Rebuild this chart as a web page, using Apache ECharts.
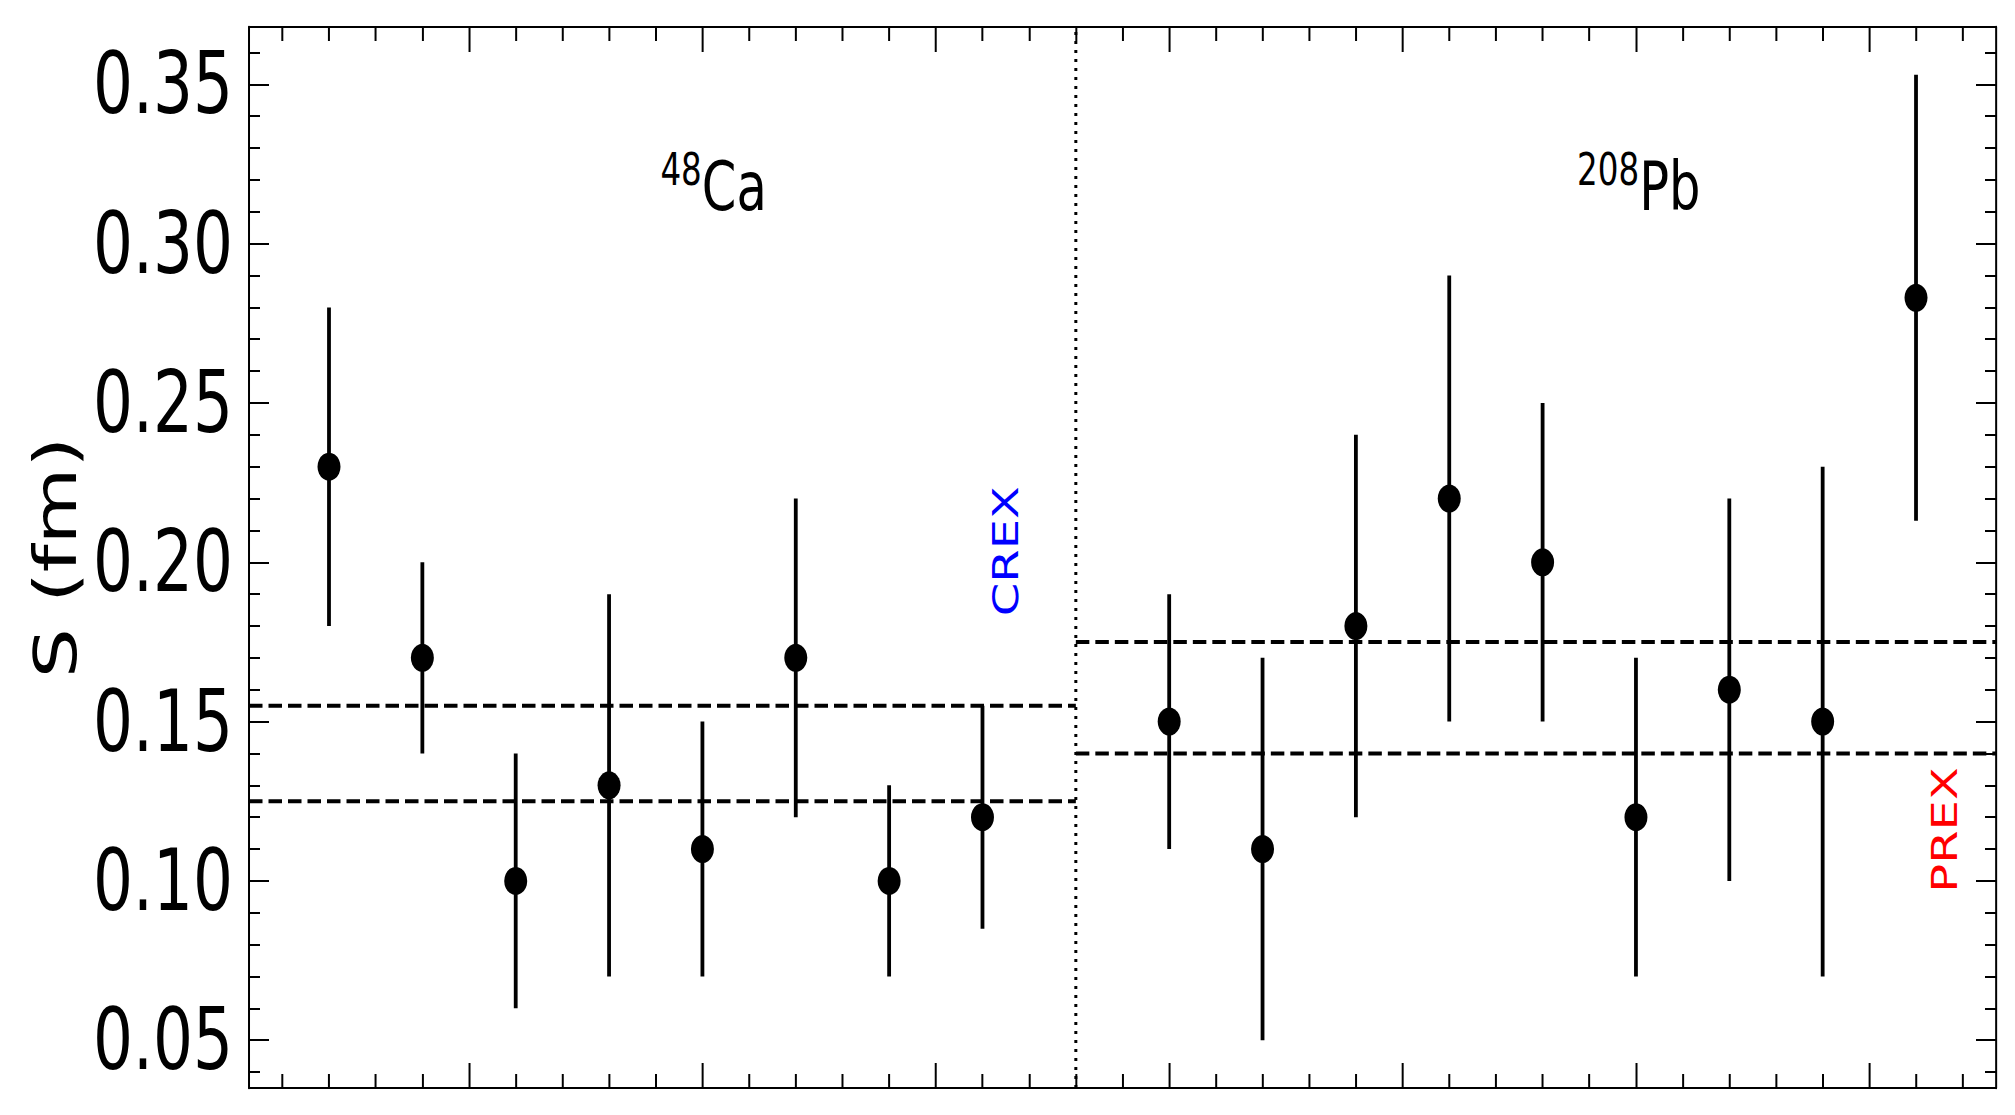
<!DOCTYPE html>
<html>
<head>
<meta charset="utf-8">
<script src="https://cdn.jsdelivr.net/npm/echarts@6/dist/echarts.min.js"></script>
<style>
  html, body { margin: 0; padding: 0; background: #fff; overflow: hidden; }
  /* the reference image is horizontally compressed; draw wider and squeeze */
  #chart { width: 2723px; height: 1115px; transform: scaleX(0.74); transform-origin: 0 0; }
</style>
</head>
<body>
<div id="chart"></div>
<script>
// ---- data ----
const caX  = [1, 2, 3, 4, 5, 6, 7, 8];
const caS  = [0.23, 0.17, 0.10, 0.13, 0.11, 0.17, 0.10, 0.12];
const caLo = [0.18, 0.14, 0.06, 0.07, 0.07, 0.12, 0.07, 0.085];
const caHi = [0.28, 0.20, 0.14, 0.19, 0.15, 0.22, 0.13, 0.155];

const pbX  = [10, 11, 12, 13, 14, 15, 16, 17, 18];
const pbS  = [0.15, 0.11, 0.18, 0.22, 0.20, 0.12, 0.16, 0.15, 0.283];
const pbLo = [0.11, 0.05, 0.12, 0.15, 0.15, 0.07, 0.10, 0.07, 0.213];
const pbHi = [0.19, 0.17, 0.24, 0.29, 0.25, 0.17, 0.22, 0.23, 0.353];

const crexBand = [0.125, 0.155];   // CREX dashed lines (Ca side)
const prexBand = [0.140, 0.175];   // PREX dashed lines (Pb side)
const divider  = 9;                // dotted separator between the panels

const xRange = [0.143, 18.857];
const yRange = [0.035, 0.368];

const xMajorTicks = [2.5, 5, 7.5, 10, 12.5, 15, 17.5];
const xMinorTicks = [0.5, 1, 1.5, 2, 3, 3.5, 4, 4.5, 5.5, 6, 6.5, 7, 8, 8.5, 9, 9.5,
                     10.5, 11, 11.5, 12, 13, 13.5, 14, 14.5, 15.5, 16, 16.5, 17, 18, 18.5];
const yMajorTicks = [0.05, 0.10, 0.15, 0.20, 0.25, 0.30, 0.35];
const yMinorTicks = [0.04, 0.06, 0.07, 0.08, 0.09, 0.11, 0.12, 0.13, 0.14, 0.16, 0.17, 0.18, 0.19,
                     0.21, 0.22, 0.23, 0.24, 0.26, 0.27, 0.28, 0.29, 0.31, 0.32, 0.33, 0.34, 0.36];
const yTickLabels = ['0.05', '0.10', '0.15', '0.20', '0.25', '0.30', '0.35'];

const panelLabels = [
  { sup: '48',  base: 'Ca', x: 5.12,  y: 0.3180 },
  { sup: '208', base: 'Pb', x: 15.03, y: 0.3180 }
];
const expLabels = [
  { text: 'CREX', x: 8.25,  y: 0.2035, color: '#0000ff' },
  { text: 'PREX', x: 18.31, y: 0.116,  color: '#ff0000' }
];

// ---- styling ----
const SQ = 0.74;                 // horizontal squeeze applied by CSS
const hx = (v) => v / SQ;        // horizontal size in pre-squeeze pixels
const SANS = "'DejaVu Sans', sans-serif";

function xAxisDef(pos, ticks, len, showLine) {
  return {
    type: 'value', position: pos, min: xRange[0], max: xRange[1],
    axisLine: { show: showLine, onZero: false, lineStyle: { color: '#000', width: 2 } },
    axisTick: { show: true, inside: true, length: len, customValues: ticks,
                lineStyle: { color: '#000', width: hx(2) } },
    axisLabel: { show: false },
    splitLine: { show: false }
  };
}
function yAxisDef(pos, ticks, len, showLine, withLabels) {
  const a = {
    type: 'value', position: pos, min: yRange[0], max: yRange[1],
    axisLine: { show: showLine, onZero: false, lineStyle: { color: '#000', width: hx(2) } },
    axisTick: { show: true, inside: true, length: hx(len), customValues: ticks,
                lineStyle: { color: '#000', width: 2 } },
    axisLabel: { show: false },
    splitLine: { show: false }
  };
  if (withLabels) {
    a.axisLabel = {
      show: true, customValues: yMajorTicks, margin: hx(16),
      formatter: (v) => yTickLabels[yMajorTicks.findIndex(t => Math.abs(t - v) < 1e-6)] || v.toFixed(2),
      fontFamily: SANS, fontSize: 85, color: '#000'
    };
    a.name = 'S (fm)';
    a.nameLocation = 'middle';
    a.nameRotate = 90;
    a.nameGap = hx(160);
    a.nameTextStyle = { fontFamily: SANS, fontSize: 79, color: '#000' };
  }
  return a;
}

const errData = caX.map((x, i) => [x, caLo[i], caHi[i]])
  .concat(pbX.map((x, i) => [x, pbLo[i], pbHi[i]]));
const ptData = caX.map((x, i) => [x, caS[i]]).concat(pbX.map((x, i) => [x, pbS[i]]));

const dashStyle = { color: '#000', width: 4, type: [hx(13.5), hx(6)] };
function hLine(v, x0, x1) {
  return {
    type: 'line', xAxisIndex: 0, yAxisIndex: 0, symbol: 'none', silent: true,
    data: [[x0, v], [x1, v]], lineStyle: dashStyle, z: 3
  };
}

const chart = echarts.init(document.getElementById('chart'), null, { renderer: 'svg' });
chart.setOption({
  animation: false,
  backgroundColor: '#fff',
  grid: { left: hx(249), top: 27, right: hx(19), bottom: 27, containLabel: false,
          outerBoundsMode: 'none' },
  xAxis: [
    xAxisDef('bottom', xMajorTicks, 25, true),
    xAxisDef('bottom', xMinorTicks, 14, false),
    xAxisDef('top', xMajorTicks, 25, true),
    xAxisDef('top', xMinorTicks, 14, false)
  ],
  yAxis: [
    yAxisDef('left', yMajorTicks, 20, true, true),
    yAxisDef('left', yMinorTicks, 11, false, false),
    yAxisDef('right', yMajorTicks, 20, true, false),
    yAxisDef('right', yMinorTicks, 11, false, false)
  ],
  series: [
    hLine(crexBand[0], xRange[0], divider),
    hLine(crexBand[1], xRange[0], divider),
    hLine(prexBand[0], divider, xRange[1]),
    hLine(prexBand[1], divider, xRange[1]),
    {
      type: 'line', xAxisIndex: 0, yAxisIndex: 0, symbol: 'none', silent: true,
      data: [[divider, yRange[0]], [divider, yRange[1]]],
      lineStyle: { color: '#000', width: hx(3), type: [3, 6] }, z: 3
    },
    {
      type: 'custom', xAxisIndex: 0, yAxisIndex: 0, silent: true, z: 4,
      data: errData,
      encode: { x: 0, y: [1, 2] },
      renderItem: function (params, api) {
        const p1 = api.coord([api.value(0), api.value(1)]);
        const p2 = api.coord([api.value(0), api.value(2)]);
        return { type: 'line', shape: { x1: p1[0], y1: p1[1], x2: p2[0], y2: p2[1] },
                 style: { stroke: '#000', lineWidth: hx(3.8) } };
      }
    },
    {
      type: 'scatter', xAxisIndex: 0, yAxisIndex: 0, silent: true, z: 5,
      symbol: 'circle', symbolSize: [hx(23), 28],
      itemStyle: { color: '#000', opacity: 1 },
      data: ptData
    },
    {
      type: 'scatter', xAxisIndex: 0, yAxisIndex: 0, silent: true, z: 6,
      symbolSize: 0, itemStyle: { opacity: 1 },
      data: panelLabels.map(p => ({ value: [p.x, p.y], sup: p.sup, base: p.base })),
      label: {
        show: true, position: 'inside', opacity: 1,
        formatter: (p) => '{s|' + p.data.sup + '}{b|' + p.data.base + '}',
        rich: {
          s: { fontFamily: SANS, fontSize: 44, lineHeight: 44, verticalAlign: 'top', color: '#000' },
          b: { fontFamily: SANS, fontSize: 67, lineHeight: 78, color: '#000' }
        }
      }
    },
    {
      type: 'scatter', xAxisIndex: 0, yAxisIndex: 0, silent: true, z: 6,
      symbolSize: 0, itemStyle: { opacity: 1 },
      data: expLabels.map(p => ({ value: [p.x, p.y], text: p.text,
                                  label: { color: p.color } })),
      label: {
        show: true, position: 'inside', rotate: 90, opacity: 1,
        formatter: (p) => p.data.text,
        fontFamily: SANS, fontSize: 48
      }
    }
  ]
});
</script>
</body>
</html>
